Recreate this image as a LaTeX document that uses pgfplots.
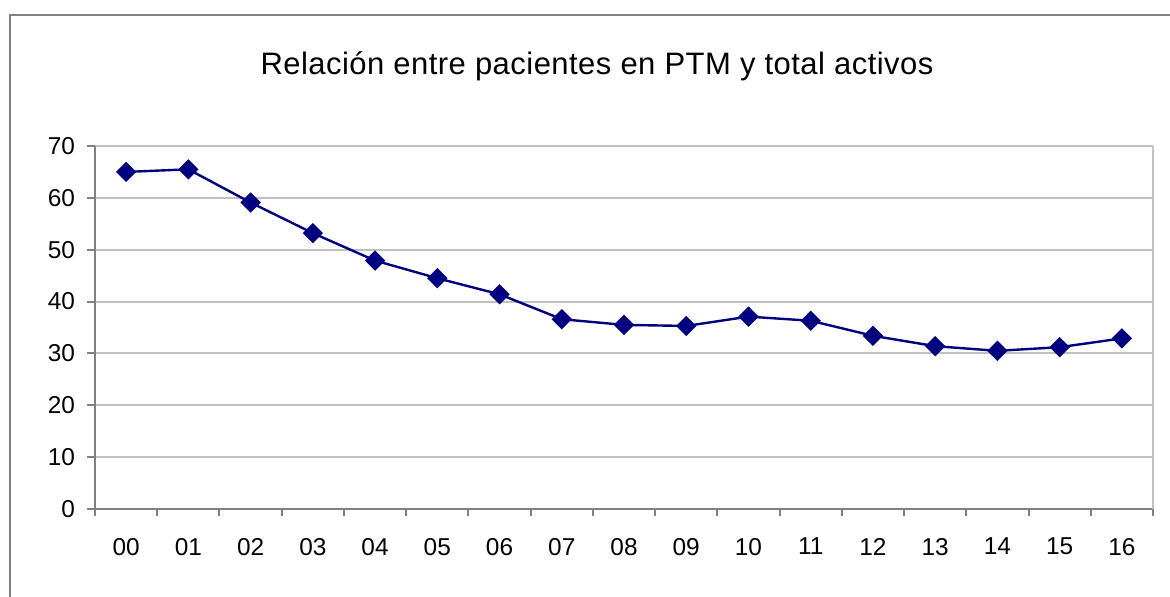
\documentclass[border=0pt]{standalone}
\usepackage{fontspec}
\setmainfont{Liberation Sans}
\usepackage{pgfplots}
\pgfplotsset{compat=1.18}
\definecolor{navyline}{HTML}{000080}
\definecolor{gridsilver}{HTML}{C0C0C0}
\definecolor{axisgray}{HTML}{808080}
\begin{document}
\begin{tikzpicture}[x=0.5pt,y=0.5pt]
% canvas 1170 x 597 px, y measured from bottom
\path[use as bounding box] (0,0) rectangle (1170,597);
\draw[axisgray, line width=1pt] (10,0) -- (10,582) -- (1170,582);
\node[font=\fontsize{15.5}{18}\selectfont\addfontfeature{LetterSpace=1.5}] at (597,531) {Relación entre pacientes en PTM y total activos};
\begin{axis}[
    at={(47.5pt,44pt)}, anchor=south west,
    scale only axis,
    width=529pt, height=181.5pt,
    xmin=-0.5, xmax=16.5,
    ymin=0, ymax=70,
    xtick={0,...,16},
    xticklabels={00,01,02,03,04,05,06,07,08,09,10,11,12,13,14,15,16},
    minor xtick={-0.5,0.5,...,16.5},
    ytick={0,10,...,70},
    axis x line*=bottom, axis y line*=left,
    axis line style={axisgray, line width=1pt, -},
    tick align=outside,
    major tick length=4pt,
    minor tick length=3.5pt,
    x tick style={draw=none},
    minor x tick style={draw=axisgray, line width=1pt},
    y tick style={axisgray, line width=1pt},
    ymajorgrids,
    grid style={gridsilver, line width=1pt},
    ticklabel style={font=\fontsize{12.2}{14}\selectfont, black},
    xticklabel style={yshift=-7pt},
    yticklabel style={xshift=-2.5pt},
    /pgf/number format/assume math mode=true,
    clip=false,
]
\draw[gridsilver, line width=1pt] (rel axis cs:1,0) -- (rel axis cs:1,1);
\addplot[navyline, line width=1.2pt, mark=square*, mark size=3pt,
    mark options={rotate=45, fill=navyline, draw=navyline}]
    coordinates {
    (0,65.0) (1,65.5) (2,59.1) (3,53.2) (4,47.9) (5,44.5) (6,41.4)
    (7,36.6) (8,35.5) (9,35.3) (10,37.1) (11,36.3) (12,33.4)
    (13,31.4) (14,30.5) (15,31.2) (16,32.9)};
\end{axis}
\end{tikzpicture}
\end{document}
